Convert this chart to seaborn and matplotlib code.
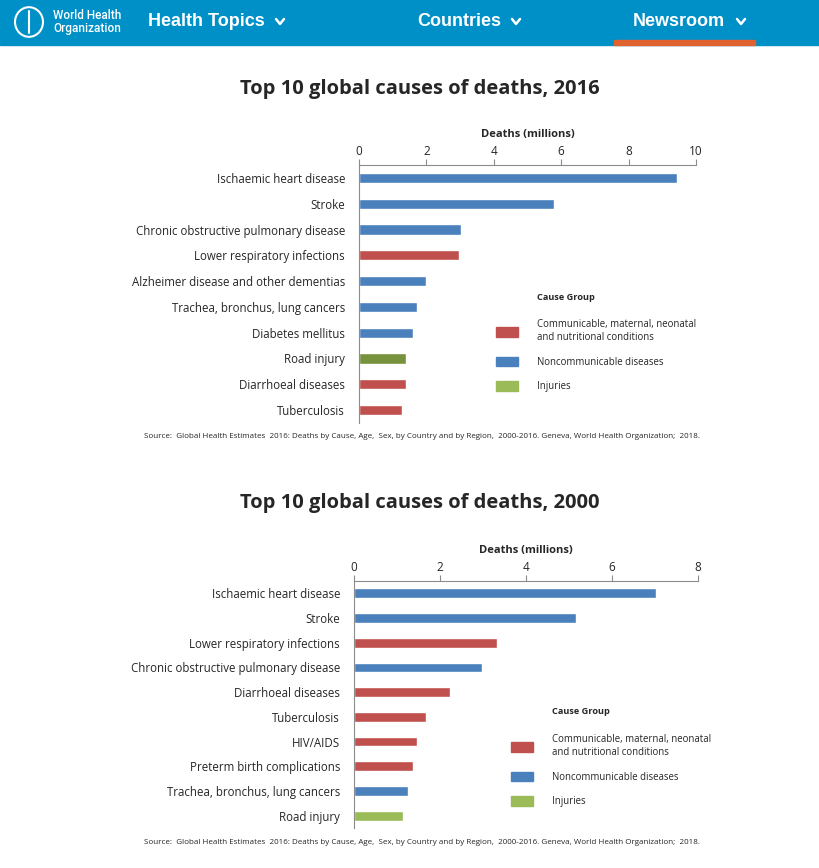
import pandas as pd
import seaborn as sns
import matplotlib.pyplot as plt
from matplotlib.patches import Rectangle, Patch, Circle
from matplotlib.lines import Line2D

# data
causes_2016 = ['Ischaemic heart disease', 'Stroke', 'Chronic obstructive pulmonary disease',
               'Lower respiratory infections', 'Alzheimer disease and other dementias',
               'Trachea, bronchus, lung cancers', 'Diabetes mellitus', 'Road injury',
               'Diarrhoeal diseases', 'Tuberculosis']
deaths_2016 = [9.43, 5.78, 3.04, 2.96, 1.99, 1.71, 1.60, 1.40, 1.38, 1.29]
group_2016 = ['NCD', 'NCD', 'NCD', 'CMN', 'NCD', 'NCD', 'NCD', 'INJ', 'CMN', 'CMN']

causes_2000 = ['Ischaemic heart disease', 'Stroke', 'Lower respiratory infections',
               'Chronic obstructive pulmonary disease', 'Diarrhoeal diseases', 'Tuberculosis',
               'HIV/AIDS', 'Preterm birth complications', 'Trachea, bronchus, lung cancers',
               'Road injury']
deaths_2000 = [7.03, 5.17, 3.33, 2.98, 2.24, 1.68, 1.47, 1.38, 1.26, 1.15]
group_2000 = ['NCD', 'NCD', 'CMN', 'NCD', 'CMN', 'CMN', 'CMN', 'CMN', 'NCD', 'INJ']

legend_labels = ['Communicable, maternal, neonatal\nand nutritional conditions',
                 'Noncommunicable diseases', 'Injuries']

RED = '#C0504D'
BLUE = '#4A81BD'
GREEN = '#9BBB59'
DKGREEN = '#76923C'
GRAY = '#8C8C8C'

sns.set_style('white')
plt.rcParams['font.family'] = ['Open Sans', 'DejaVu Sans']

W, H = 820, 868
fig = plt.figure(figsize=(W / 100, H / 100), dpi=100)


def fx(px):
    return px / W


def fy(py):
    return 1 - py / H


# header bar
fig.patches.append(Rectangle((0, fy(45)), 1, 45 / H, transform=fig.transFigure,
                             color='#0090C8', zorder=0))
fig.patches.append(Rectangle((fx(614), fy(45)), fx(141), 5 / H, transform=fig.transFigure,
                             color='#E2622F', zorder=1))
fig.patches.append(Circle((fx(29), fy(22)), 14 / W, transform=fig.transFigure,
                          fill=False, ec='white', lw=1.5))
fig.add_artist(Line2D([fx(29), fx(29)], [fy(11), fy(33)], color='white', lw=1.5,
                      transform=fig.transFigure))
fig.text(fx(53), fy(22), 'World Health\nOrganization', color='white', fontsize=8.5,
         va='center', ha='left', linespacing=0.95, family='Roboto', fontweight='medium')
for label, x in [('Health Topics', 148), ('Countries', 417), ('Newsroom', 633)]:
    fig.text(fx(x), fy(21), label, color='white', fontsize=13, fontweight='bold',
             va='center', ha='left', family='Liberation Sans')
# chevrons
for x in [280, 516, 741]:
    fig.add_artist(Line2D([fx(x - 4), fx(x), fx(x + 4)], [fy(19), fy(24), fy(19)],
                          color='white', lw=1.8, transform=fig.transFigure))


def draw_chart(rect, causes, deaths, groups, xmax, palette, title, title_y, legend_xy, src_y):
    df = pd.DataFrame({'cause': causes, 'deaths': deaths, 'group': groups})
    ax = fig.add_axes(rect)
    sns.barplot(data=df, x='deaths', y='cause', hue='group', palette=palette, dodge=False,
                width=0.4, legend=False, ax=ax, saturation=1)
    ax.set_xlim(0, xmax)
    ax.set_ylim(9.5, -0.5)
    ax.xaxis.tick_top()
    ax.xaxis.set_label_position('top')
    ax.set_xticks(range(0, xmax + 1, 2))
    ax.set_xlabel('Deaths (millions)', fontsize=8, fontweight='bold', labelpad=6)
    ax.set_ylabel('')
    ax.set_yticks(range(10))
    ax.set_yticks([i - 0.5 for i in range(11)], minor=True)
    ax.tick_params(axis='y', which='major', length=0, pad=10, labelsize=8.3)
    ax.tick_params(axis='y', which='minor', length=4, color=GRAY, width=0.8)
    ax.tick_params(axis='x', length=4, color=GRAY, width=0.8, labelsize=8.5, pad=1)
    for s in ['right', 'bottom']:
        ax.spines[s].set_visible(False)
    for s in ['top', 'left']:
        ax.spines[s].set_color(GRAY)
        ax.spines[s].set_linewidth(0.8)

    fig.text(fx(420), fy(title_y), title, ha='center', va='center', fontsize=14.5,
             fontweight='bold')

    lx, ly = legend_xy
    fig.text(fx(lx + 41), fy(ly), 'Cause Group', fontsize=6.6, fontweight='bold', va='center')
    handles = [Patch(color=RED), Patch(color=BLUE), Patch(color=GREEN)]
    leg = fig.legend(handles, legend_labels, loc='upper left', frameon=False,
                     bbox_to_anchor=(fx(lx - 9), fy(ly + 13)), fontsize=6.9,
                     handlelength=2.3, handleheight=1.15, handletextpad=2.05,
                     labelspacing=1.4)
    for t in leg.get_texts():
        t.set_linespacing(1.35)

    fig.text(fx(422), fy(src_y),
             'Source:  Global Health Estimates  2016: Deaths by Cause, Age,  Sex, by Country and by Region,  '
             '2000-2016. Geneva, World Health Organization;  2018.',
             ha='center', va='center', fontsize=5.8)
    return ax


pal16 = {'CMN': RED, 'NCD': BLUE, 'INJ': DKGREEN}
pal00 = {'CMN': RED, 'NCD': BLUE, 'INJ': GREEN}

draw_chart([fx(359), fy(423), fx(337), (423 - 165) / H], causes_2016, deaths_2016, group_2016,
           10, pal16, 'Top 10 global causes of deaths, 2016', 89, (496, 297), 436)
draw_chart([fx(354), fy(828), fx(344), (828 - 581) / H], causes_2000, deaths_2000, group_2000,
           8, pal00, 'Top 10 global causes of deaths, 2000', 503, (511, 712), 843)

fig.savefig('out.png', dpi=100)
